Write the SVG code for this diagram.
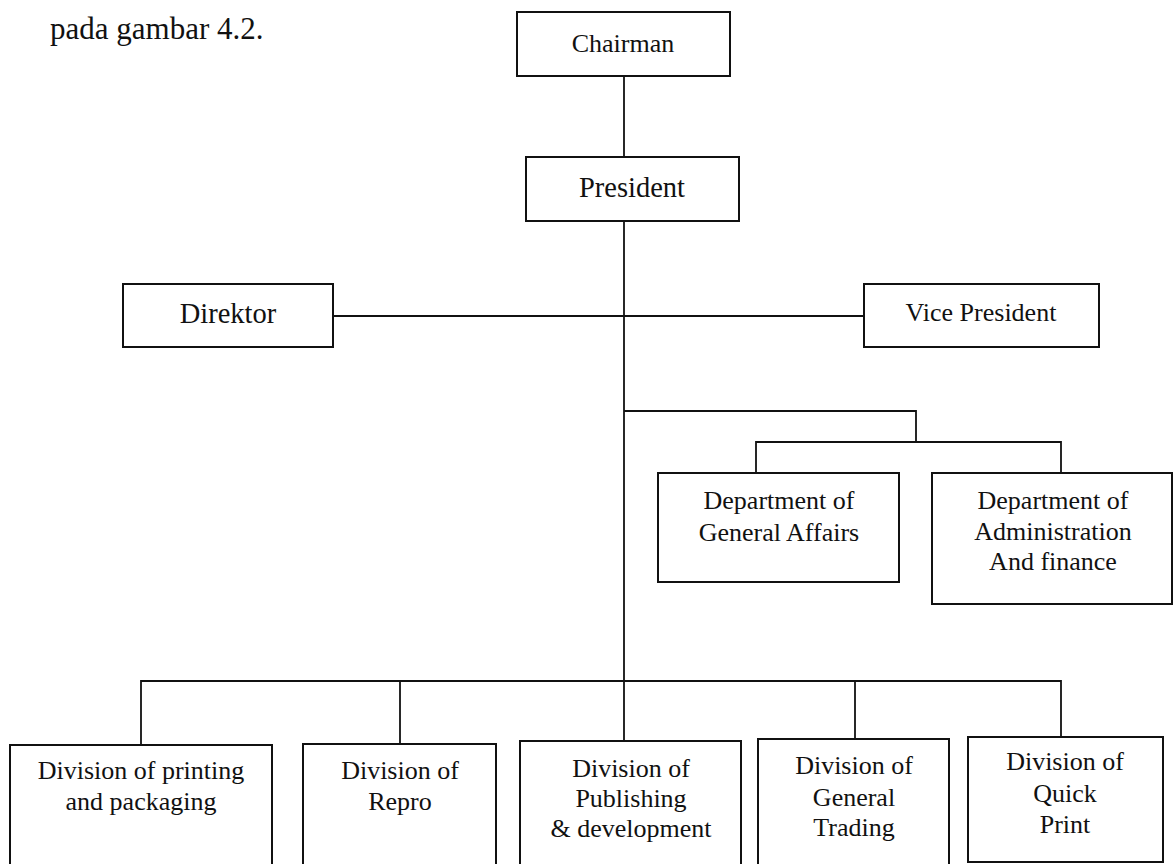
<svg xmlns="http://www.w3.org/2000/svg" width="1173" height="864" viewBox="0 0 1173 864">
<style>
.box{fill:#fff;stroke:#111;stroke-width:2}
.ln{fill:none;stroke:#111;stroke-width:1.8}
text{font-family:"Liberation Serif","Times New Roman",serif;font-size:26px;fill:#111;text-anchor:middle}
.big{font-size:28.5px}
</style>
<rect width="1173" height="864" fill="#fff"/>
<text x="50" y="39" style="text-anchor:start;font-size:31px">pada gambar 4.2.</text>
<g id="connectors">
<path class="ln" d="M624 76V157"/>
<path class="ln" d="M624 221V681"/>
<path class="ln" d="M333 316H864"/>
<path class="ln" d="M624 411H916V442"/>
<path class="ln" d="M756 473V442H1061V473"/>
<path class="ln" d="M141 745V681H1061V737"/>
<path class="ln" d="M400 681V744"/>
<path class="ln" d="M624 681V741"/>
<path class="ln" d="M855 681V739"/>
</g>
<g id="chairman"><rect class="box" x="517" y="12" width="213" height="64"/><text x="623" y="52">Chairman</text></g>
<g id="president"><rect class="box" x="526" y="157" width="213" height="64"/><text class="big" x="632" y="197">President</text></g>
<g id="direktor"><rect class="box" x="123" y="284" width="210" height="63"/><text class="big" x="228" y="323">Direktor</text></g>
<g id="vice-president"><rect class="box" x="864" y="284" width="235" height="63"/><text x="981" y="321">Vice President</text></g>
<g id="dept-general-affairs"><rect class="box" x="658" y="473" width="241" height="109"/><text x="779" y="509">Department of</text><text x="779" y="541">General Affairs</text></g>
<g id="dept-administration"><rect class="box" x="932" y="473" width="240" height="131"/><text x="1053" y="509">Department of</text><text x="1053" y="540">Administration</text><text x="1053" y="570">And finance</text></g>
<g id="div-printing"><rect class="box" x="10" y="745" width="262" height="130"/><text x="141" y="779">Division of printing</text><text x="141" y="810">and packaging</text></g>
<g id="div-repro"><rect class="box" x="303" y="744" width="193" height="130"/><text x="400" y="779">Division of</text><text x="400" y="810">Repro</text></g>
<g id="div-publishing"><rect class="box" x="520" y="741" width="221" height="130"/><text x="631" y="777">Division of</text><text x="631" y="807">Publishing</text><text x="631" y="837">&amp; development</text></g>
<g id="div-trading"><rect class="box" x="758" y="739" width="191" height="130"/><text x="854" y="774">Division of</text><text x="854" y="806">General</text><text x="854" y="836">Trading</text></g>
<g id="div-quickprint"><rect class="box" x="968" y="737" width="195" height="125"/><text x="1065" y="770">Division of</text><text x="1065" y="802">Quick</text><text x="1065" y="833">Print</text></g>
</svg>
